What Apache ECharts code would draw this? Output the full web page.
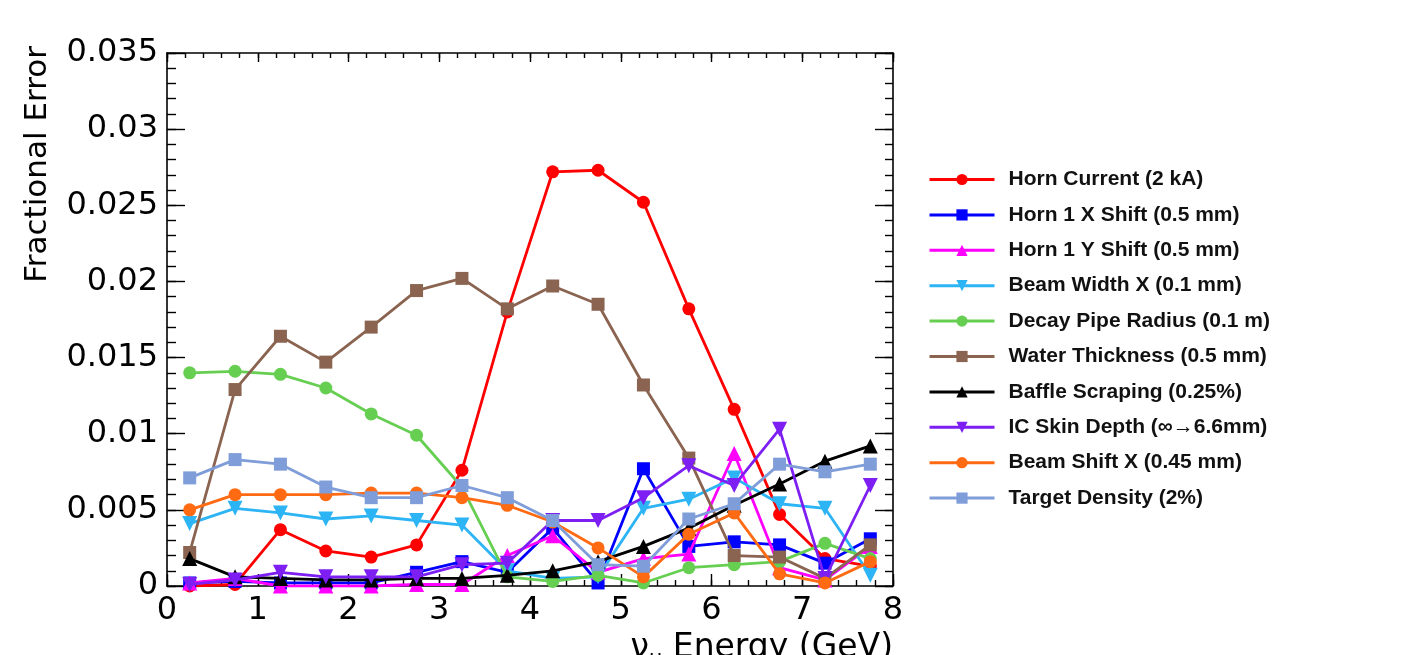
<!DOCTYPE html>
<html>
<head>
<meta charset="utf-8">
<script src="https://cdn.jsdelivr.net/npm/echarts@6/dist/echarts.min.js"></script>
<style>
html,body{margin:0;padding:0;background:#fff;}
#chart{width:1418px;height:655px;}
</style>
</head>
<body>
<div id="chart"></div>
<script>
// Bin centres (GeV)
const energies = [0.25, 0.75, 1.25, 1.75, 2.25, 2.75, 3.25, 3.75, 4.25, 4.75, 5.25, 5.75, 6.25, 6.75, 7.25, 7.75];

const seriesNames = [
  'Horn Current (2 kA)',
  'Horn 1 X Shift (0.5 mm)',
  'Horn 1 Y Shift (0.5 mm)',
  'Beam Width X (0.1 mm)',
  'Decay Pipe Radius (0.1 m)',
  'Water Thickness (0.5 mm)',
  'Baffle Scraping (0.25%)',
  'IC Skin Depth (\u221e\u21926.6mm)',
  'Beam Shift X (0.45 mm)',
  'Target Density (2%)'
];

const hornCurrent     = [0.0000, 0.0001, 0.0037, 0.0023, 0.0019, 0.0027, 0.0076, 0.0180, 0.0272, 0.0273, 0.0252, 0.0182, 0.0116, 0.0047, 0.0018, 0.0013];
const horn1XShift     = [0.0002, 0.0003, 0.0002, 0.0002, 0.0002, 0.0009, 0.0016, 0.0009, 0.0038, 0.0002, 0.0077, 0.0026, 0.0029, 0.0027, 0.0015, 0.0031];
const horn1YShift     = [0.0002, 0.0005, 0.0000, 0.0000, 0.0000, 0.0001, 0.0001, 0.0020, 0.0033, 0.0009, 0.0018, 0.0021, 0.0087, 0.0012, 0.0004, 0.0026];
const beamWidthX      = [0.0041, 0.0051, 0.0048, 0.0044, 0.0046, 0.0043, 0.0040, 0.0010, 0.0005, 0.0006, 0.0051, 0.0057, 0.0071, 0.0054, 0.0051, 0.0007];
const decayPipeRadius = [0.0140, 0.0141, 0.0139, 0.0130, 0.0113, 0.0099, 0.0065, 0.0006, 0.0003, 0.0007, 0.0002, 0.0012, 0.0014, 0.0016, 0.0028, 0.0018];
const waterThickness  = [0.0022, 0.0129, 0.0164, 0.0147, 0.0170, 0.0194, 0.0202, 0.0182, 0.0197, 0.0185, 0.0132, 0.0084, 0.0020, 0.0019, 0.0005, 0.0027];
const baffleScraping  = [0.0018, 0.0006, 0.0005, 0.0004, 0.0004, 0.0005, 0.0005, 0.0007, 0.0010, 0.0016, 0.0026, 0.0038, 0.0053, 0.0067, 0.0082, 0.0092];
const icSkinDepth     = [0.0001, 0.0004, 0.0009, 0.0006, 0.0006, 0.0006, 0.0014, 0.0015, 0.0043, 0.0043, 0.0058, 0.0079, 0.0066, 0.0103, 0.0005, 0.0066];
const beamShiftX      = [0.0050, 0.0060, 0.0060, 0.0060, 0.0061, 0.0061, 0.0058, 0.0053, 0.0042, 0.0025, 0.0006, 0.0034, 0.0048, 0.0008, 0.0002, 0.0016];
const targetDensity   = [0.0071, 0.0083, 0.0080, 0.0065, 0.0058, 0.0058, 0.0066, 0.0058, 0.0043, 0.0014, 0.0013, 0.0044, 0.0054, 0.0080, 0.0075, 0.0080];

const allValues = [hornCurrent, horn1XShift, horn1YShift, beamWidthX, decayPipeRadius,
                   waterThickness, baffleScraping, icSkinDepth, beamShiftX, targetDensity];

const colors  = ['#ff0000', '#0000ff', '#ff00ff', '#2db4f4', '#66cf52', '#8a6450', '#000000', '#7d1ff2', '#ff6a12', '#7f9dd8'];
const symbols = ['circle', 'rect', 'triangle', 'triangle', 'circle', 'rect', 'triangle', 'triangle', 'circle', 'rect'];
const rotates = [0, 0, 0, 180, 0, 0, 0, 180, 0, 0];

const xTickLabels = ['0', '1', '2', '3', '4', '5', '6', '7', '8'];
const yTickLabels = ['0', '0.005', '0.01', '0.015', '0.02', '0.025', '0.03', '0.035'];

const FONT = 'DejaVu Sans';

const series = seriesNames.map((name, i) => ({
  name: name,
  type: 'line',
  xAxisIndex: 0,
  yAxisIndex: 0,
  data: energies.map((e, j) => [e, allValues[i][j]]),
  symbol: symbols[i],
  symbolRotate: rotates[i],
  symbolSize: symbols[i] === 'triangle' ? 15 : 13,
  showAllSymbol: true,
  lineStyle: { color: colors[i], width: 2.8 },
  itemStyle: { color: colors[i] },
  emphasis: { disabled: true },
  animation: false,
  z: 2 + i
}));

const chart = echarts.init(document.getElementById('chart'), null, { renderer: 'canvas' });

const frameLine = { show: true, onZero: false, lineStyle: { color: '#000', width: 1.6 } };
const noLine = { show: false, onZero: false };
const tickStyle = { color: '#000', width: 1.4 };

function xAx(position, interval, tickLen, showLine, showLabel) {
  return {
    type: 'value', min: 0, max: 8, interval: interval, position: position,
    axisLine: showLine ? frameLine : noLine,
    axisTick: { show: true, inside: true, length: tickLen, lineStyle: tickStyle },
    splitLine: { show: false },
    axisLabel: showLabel ? {
      show: true, margin: 9, fontFamily: FONT, fontSize: 32, color: '#000',
      formatter: v => xTickLabels[Math.round(v)] ?? ''
    } : { show: false }
  };
}
function yAx(position, interval, tickLen, showLine, showLabel) {
  return {
    type: 'value', min: 0, max: 0.035, interval: interval, position: position,
    axisLine: showLine ? frameLine : noLine,
    axisTick: { show: true, inside: true, length: tickLen, lineStyle: tickStyle },
    splitLine: { show: false },
    axisLabel: showLabel ? {
      show: true, margin: 9, fontFamily: FONT, fontSize: 32, color: '#000',
      formatter: v => yTickLabels[Math.round(v / 0.005)] ?? ''
    } : { show: false }
  };
}

chart.setOption({
  backgroundColor: '#ffffff',
  animation: false,
  grid: { left: 167, right: 525, top: 53, bottom: 69, containLabel: false },
  legend: {
    orient: 'vertical',
    left: 923,
    top: 164,
    itemWidth: 65,
    itemHeight: 14,
    itemGap: 14.4,
    lineStyle: { width: 3 },
    textStyle: { fontFamily: 'Liberation Sans', fontWeight: 'bold', fontSize: 21, color: '#111', padding: [0, 0, 0, 9] },
    data: seriesNames,
    selectedMode: false
  },
  xAxis: [
    xAx('bottom', 1, 12, true, true),
    xAx('top', 1, 9, true, false),
    xAx('bottom', 0.2, 6, false, false),
    xAx('top', 0.2, 5, false, false)
  ],
  yAxis: [
    yAx('left', 0.005, 18, true, true),
    yAx('right', 0.005, 18, true, false),
    yAx('left', 0.001, 9, false, false),
    yAx('right', 0.001, 8, false, false)
  ],
  graphic: [
    {
      type: 'text',
      x: 38, y: 46,
      rotation: Math.PI / 2,
      style: {
        text: 'Fractional Error',
        fontFamily: FONT, fontSize: 31, fill: '#000',
        align: 'right', verticalAlign: 'middle'
      }
    },
    {
      type: 'text',
      x: 893, y: 632,
      style: {
        text: '{a|\u03bd}{s|\u03bc}{a| Energy (GeV)}',
        align: 'right', verticalAlign: 'top',
        fill: '#000',
        rich: {
          a: { fontFamily: FONT, fontSize: 33, fill: '#000', verticalAlign: 'top' },
          s: { fontFamily: FONT, fontSize: 21, fill: '#000', verticalAlign: 'top', padding: [17, 0, 0, 0] }
        }
      }
    }
  ],
  series: series
});
</script>
</body>
</html>
